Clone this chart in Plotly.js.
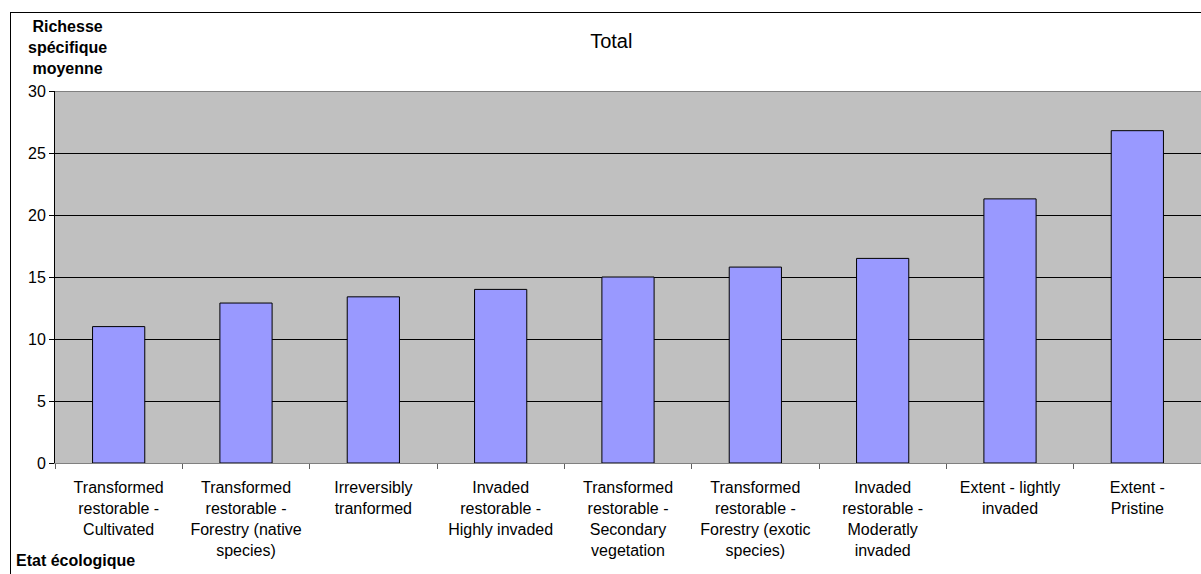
<!DOCTYPE html>
<html>
<head>
<meta charset="utf-8">
<script src="https://cdn.plot.ly/plotly-3.0.1.min.js"></script>
<style>
  html, body { margin: 0; padding: 0; background: #fff; overflow: hidden; }
  #chart { position: absolute; left: 0; top: 0; width: 1201px; height: 574px; }
  #frame { position: absolute; left: 10px; top: 12px; width: 1220px; height: 600px; border: 1px solid #000; pointer-events: none; }
</style>
</head>
<body>
<div id="chart"></div>
<div id="frame"></div>
<script>
const categories = [
  "Transformed<br>restorable -<br>Cultivated",
  "Transformed<br>restorable -<br>Forestry (native<br>species)",
  "Irreversibly<br>tranformed",
  "Invaded<br>restorable -<br>Highly invaded",
  "Transformed<br>restorable -<br>Secondary<br>vegetation",
  "Transformed<br>restorable -<br>Forestry (exotic<br>species)",
  "Invaded<br>restorable -<br>Moderatly<br>invaded",
  "Extent - lightly<br>invaded",
  "Extent -<br>Pristine"
];
const values = [11.0, 12.9, 13.4, 14.0, 15.0, 15.8, 16.5, 21.3, 26.8];
const yTicks = [0, 5, 10, 15, 20, 25, 30];

const FONT = "Liberation Sans, Arial, sans-serif";

const trace = {
  type: "bar",
  x: categories,
  y: values,
  marker: { color: "#9999FF", line: { color: "#000000", width: 1 } },
  hoverinfo: "skip"
};

const layout = {
  width: 1201,
  height: 574,
  margin: { l: 55, r: 0, t: 91, b: 111 },
  paper_bgcolor: "#ffffff",
  plot_bgcolor: "#C0C0C0",
  font: { family: FONT, size: 16, color: "#000" },
  bargap: 0.59,
  showlegend: false,
  title: {
    text: "Total",
    font: { family: FONT, size: 20, color: "#000" },
    xref: "container", x: 0.509, xanchor: "center",
    yref: "container", y: 0.928, yanchor: "middle"
  },
  xaxis: {
    type: "category",
    showgrid: false,
    showline: true, linecolor: "#808080", linewidth: 1,
    ticks: "outside", tickson: "boundaries", ticklen: 5, tickcolor: "#606060",
    tickfont: { family: FONT, size: 16, color: "#000" },
    ticklabelstandoff: 10,
    fixedrange: true
  },
  yaxis: {
    range: [0, 30],
    tickvals: yTicks,
    ticktext: yTicks.map(String),
    showgrid: true, gridcolor: "#000000", gridwidth: 1,
    zeroline: false,
    showline: true, linecolor: "#000000", linewidth: 1,
    ticks: "outside", ticklen: 5, tickcolor: "#000",
    tickfont: { family: FONT, size: 16, color: "#000" },
    fixedrange: true
  },
  shapes: [
    { type: "line", xref: "paper", yref: "y", x0: 0, x1: 1, y0: 30, y1: 30,
      line: { color: "#808080", width: 2 } }
  ],
  annotations: [
    {
      text: "<b>Richesse<br>spécifique<br>moyenne</b>",
      xref: "paper", yref: "paper",
      x: (67 - 55) / 1146, y: (463 - 47) / 372,
      xanchor: "center", yanchor: "middle",
      showarrow: false, align: "center",
      font: { family: FONT, size: 16, color: "#000" }
    },
    {
      text: "<b>Etat écologique</b>",
      xref: "paper", yref: "paper",
      x: (14 - 55) / 1146, y: (463 - 560) / 372,
      xanchor: "left", yanchor: "middle",
      showarrow: false, align: "left",
      font: { family: FONT, size: 16, color: "#000" }
    }
  ]
};

Plotly.newPlot("chart", [trace], layout, { displayModeBar: false, staticPlot: true });
</script>
</body>
</html>
